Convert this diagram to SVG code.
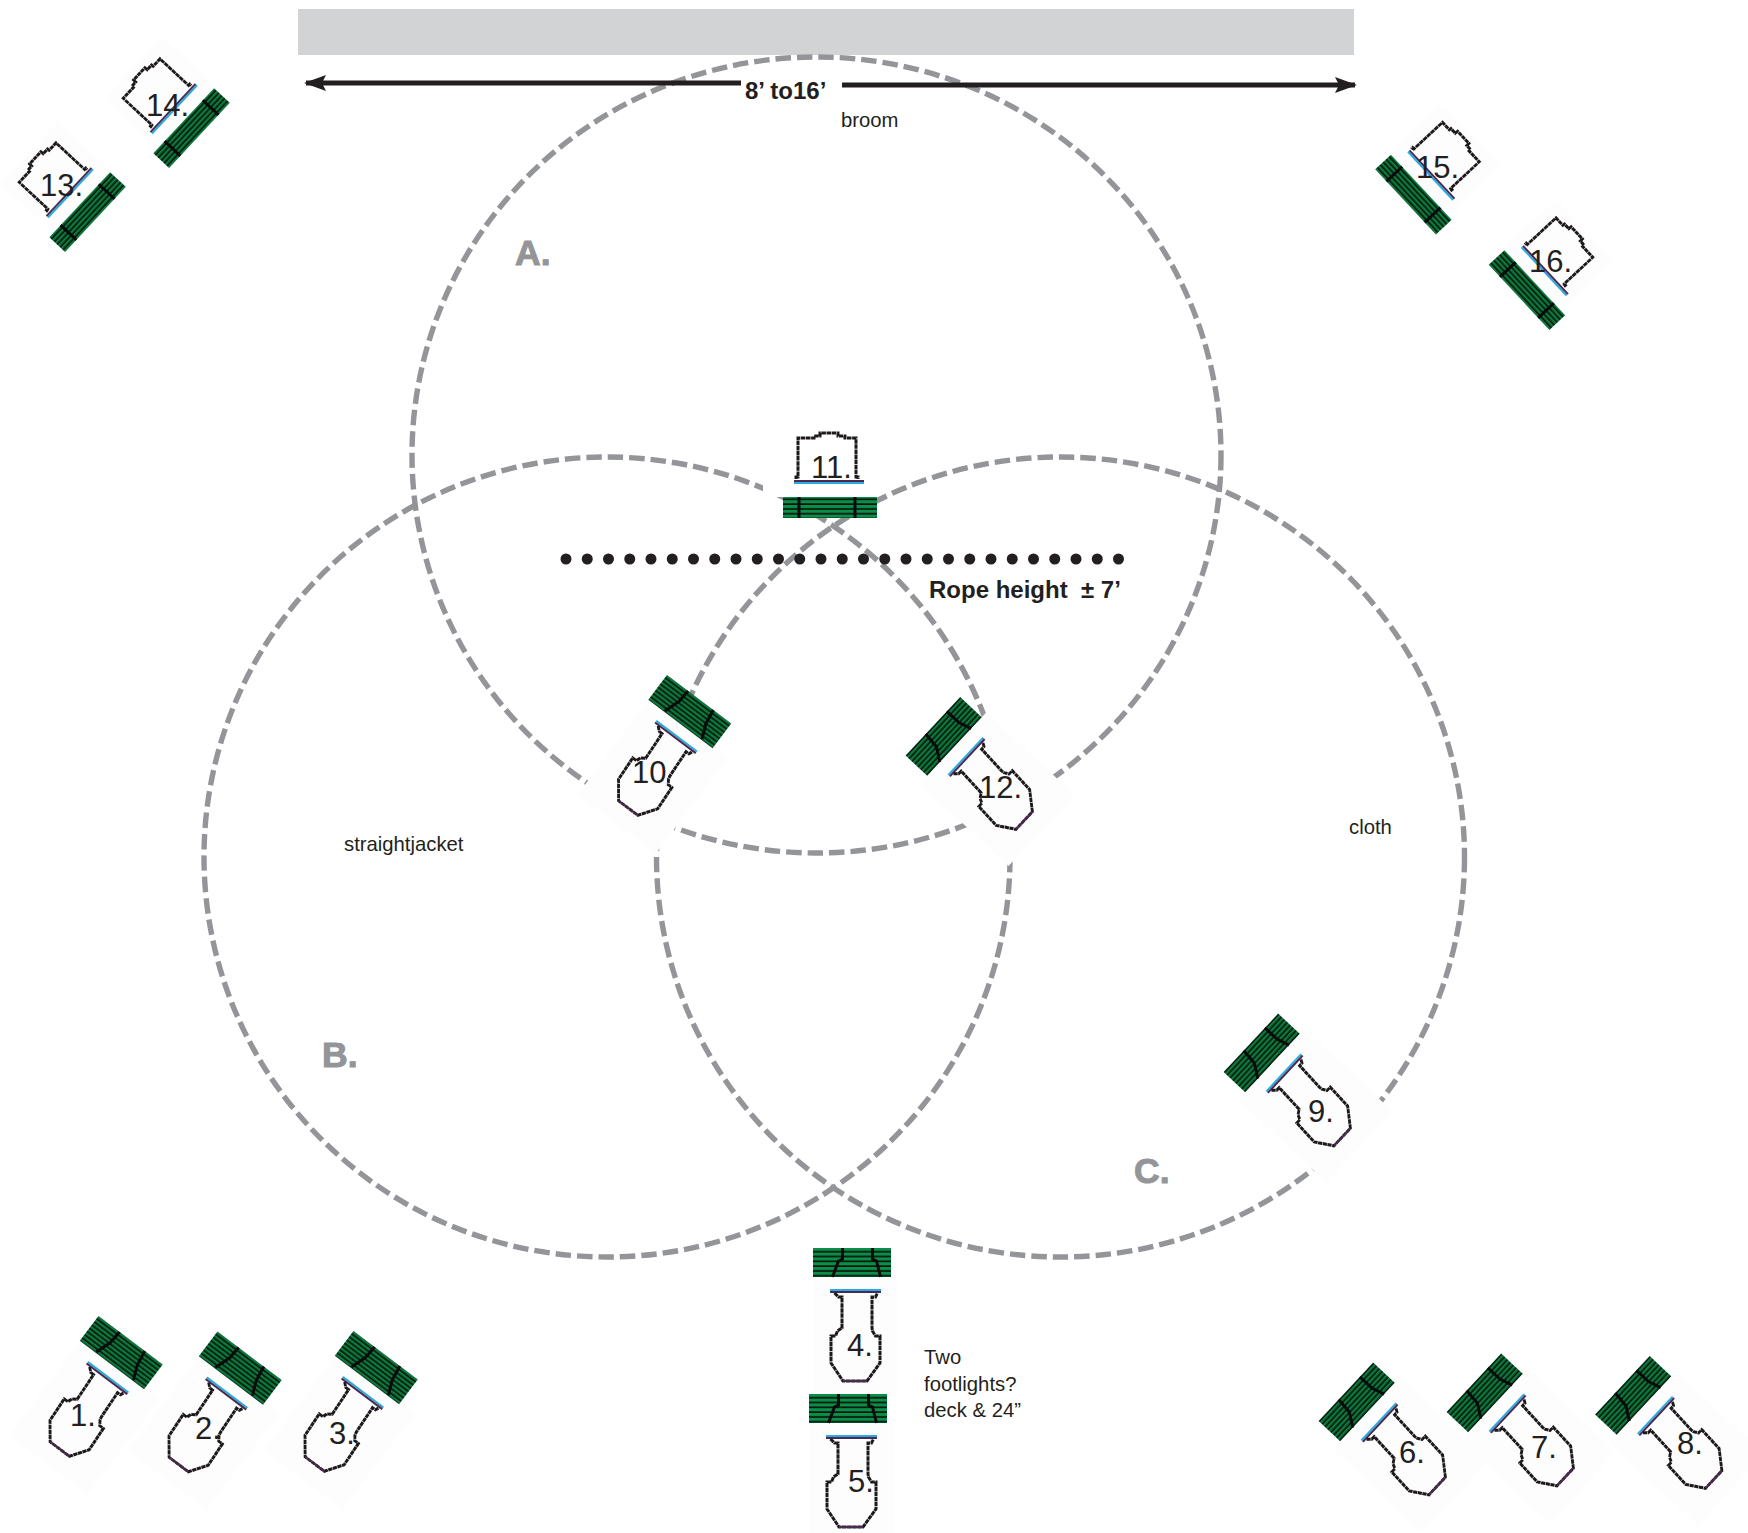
<svg xmlns="http://www.w3.org/2000/svg" width="1748" height="1533" viewBox="0 0 1748 1533">
<style>
text{font-family:"Liberation Sans",Arial,sans-serif;fill:#231f20}
.n{font-size:31px}
.s{font-size:20.3px}
.b{font-weight:bold;font-size:24px;white-space:pre}
.z{font-size:35.5px;font-weight:bold;fill:#939598;stroke:#939598;stroke-width:1}
.c{fill:none;stroke:#939598;stroke-width:5.4;stroke-dasharray:15.5 6}
.o{fill:none;stroke:#1d181b;stroke-width:3;stroke-dasharray:4.5 .6}
.t{stroke:#4a2a50;stroke-width:2;fill:none}
.u{stroke:#29abe2;stroke-width:2;fill:none}
.m{stroke:#0b0b0b;stroke-width:3;fill:none}
.bg{fill:#fdfdfd}
.w{fill:#fff}
</style>
<defs>
<pattern id="stripes" width="10" height="4.8" patternUnits="userSpaceOnUse">
<rect width="10" height="4.8" fill="#0a8f48"/>
<rect y="3.1" width="10" height="1.7" fill="#08140d"/>
</pattern>
<pattern id="stripes-dark" width="10" height="4" patternUnits="userSpaceOnUse">
<rect width="10" height="4" fill="#0b7a3c"/>
<rect y="2.4" width="10" height="1.6" fill="#06130b"/>
</pattern>
<marker id="head" viewBox="0 0 22 16" refX="20" refY="8" markerWidth="22" markerHeight="16" markerUnits="userSpaceOnUse" orient="auto-start-reverse">
<path d="M0,0 L22,8 L0,16 L4,8 Z" fill="#231f20"/>
</marker>
<g id="body">
<path class="o" d="M-21,2 L-17,6 H-13.5 V37 L-18,40 L-20,45 H-24.5 V72 L-12.5,90 H11.5 L24.5,72 V45 L20,45 L17,40 L16.5,37 V6 H20 L22,2"/>
<path class="t" d="M-12.5,90 H11.5"/>
</g>
<g id="head-v">
<rect class="bg" x="-42" y="-14" width="84" height="119"/>
<rect x="-42.5" y="-43" width="78" height="29" fill="url(#stripes)"/>
<path class="m" d="M-13,-43 V-32 L-17,-30 L-23,-14 M17,-43 V-32 L21,-30 L25,-14"/>
<path class="u" d="M-25.5,-1 H25.5"/>
<path class="t" d="M-25.5,1 H25.5"/>
</g>
<g id="head-l">
<rect class="bg" x="-44" y="-14" width="98" height="119"/>
<rect x="-44.5" y="-44" width="80.5" height="31" fill="url(#stripes-dark)"/>
<path class="m" d="M-18,-44 L-19,-30 L-24.5,-14 M13.5,-44 L16,-28 L22,-14"/>
<path class="u" d="M-25.5,-1 H25.5"/>
<path class="t" d="M-25.5,1 H25.5"/>
</g>
<g id="head-r">
<rect class="bg" x="-51" y="-16" width="97" height="121"/>
<rect x="-40.5" y="-45.5" width="80" height="29.5" fill="url(#stripes-dark)"/>
<path class="m" d="M-11,-45.5 L-13,-29 L-22,-16 M20,-45.5 V-29 L24,-16"/>
<path class="u" d="M-25.5,-1 H25.5"/>
<path class="t" d="M-25.5,1 H25.5"/>
</g>
<g id="body-short">
<path class="o" d="M-33,-2 V-4 H-31 V-43 H-15 V-45 H-9 V-48 H9 V-45 H16 V-43 H27 V-4 H29 V-2"/>
</g>
<g id="head-short">
<rect class="w" x="-66" y="-56" width="112" height="72"/>
<rect x="-46" y="16" width="94" height="21" fill="url(#stripes)"/>
<path class="m" d="M-30,16 V37 M26,16 V37"/>
<path class="u" d="M-35,2 H35"/>
<path class="t" d="M-35,0 H35"/>
</g>
<g id="head-short-r">
<rect class="bg" x="-40" y="-56" width="84" height="72"/>
<rect x="-46.5" y="16.5" width="89" height="21.5" fill="url(#stripes-dark)"/>
<path class="m" d="M-30,16.5 V38 M26,16.5 V38"/>
<path class="u" d="M-33,2 H33"/>
<path class="t" d="M-33,0 H33"/>
</g>
</defs>
<rect id="batten" x="298" y="9" width="1056" height="46" fill="#d1d3d4"/>
<g id="connectors">
<ellipse class="c" cx="816.5" cy="455" rx="404.5" ry="398"/>
<ellipse class="c" cx="607" cy="857" rx="403" ry="400"/>
<ellipse class="c" cx="1060.5" cy="857" rx="404" ry="400"/>
<line x1="306" y1="83" x2="741" y2="83" stroke="#231f20" stroke-width="5" marker-start="url(#head)"/>
<line x1="842" y1="85" x2="1355" y2="85" stroke="#231f20" stroke-width="5" marker-end="url(#head)"/>
<line x1="566" y1="559" x2="1122" y2="559" stroke="#231f20" stroke-width="11" stroke-linecap="round" stroke-dasharray="0 21.25"/>
</g>
<g id="light-1"><use href="#head-l" transform="translate(107.5,1378) rotate(37)"/><use href="#body" transform="translate(107.5,1378) rotate(37) skewX(3.4) scale(1,.95)"/><text class="n" x="70" y="1426">1.</text></g>
<g id="light-2"><use href="#head-l" transform="translate(226.5,1393.5) rotate(37)"/><use href="#body" transform="translate(226.5,1393.5) rotate(37) skewX(3.4) scale(1,.95)"/><text class="n" x="195" y="1439">2.</text></g>
<g id="light-3"><use href="#head-l" transform="translate(362.5,1393) rotate(37)"/><use href="#body" transform="translate(362.5,1393) rotate(37) skewX(3.4) scale(1,.95)"/><text class="n" x="329" y="1444">3.</text></g>
<g id="light-4"><use href="#head-v" transform="translate(855.5,1291)"/><use href="#body" transform="translate(855.5,1291)"/><text class="n" x="847" y="1356">4.</text></g>
<g id="light-5"><use href="#head-v" transform="translate(851.5,1437)"/><use href="#body" transform="translate(851.5,1437)"/><text class="n" x="848" y="1492">5.</text></g>
<g id="light-6"><use href="#head-r" transform="translate(1379.5,1422.5) rotate(-47)"/><use href="#body" transform="translate(1379.5,1422.5) rotate(-47) skewX(-4.4) scale(1,.95)"/><text class="n" x="1399" y="1463">6.</text></g>
<g id="light-7"><use href="#head-r" transform="translate(1507.5,1413.5) rotate(-47)"/><use href="#body" transform="translate(1507.5,1413.5) rotate(-47) skewX(-4.4) scale(1,.95)"/><text class="n" x="1531" y="1458">7.</text></g>
<g id="light-8"><use href="#head-r" transform="translate(1656,1416) rotate(-47)"/><use href="#body" transform="translate(1656,1416) rotate(-47) skewX(-4.4) scale(1,.95)"/><text class="n" x="1677" y="1454">8.</text></g>
<g id="light-9"><use href="#head-r" transform="translate(1284.5,1073.5) rotate(-47)"/><use href="#body" transform="translate(1284.5,1073.5) rotate(-47) skewX(-4.4) scale(1,.95)"/><text class="n" x="1308" y="1122">9.</text></g>
<g id="light-10"><use href="#head-l" transform="translate(676,737) rotate(37)"/><use href="#body" transform="translate(676,737) rotate(37) skewX(3.4) scale(1,.95)"/><text class="n" x="632" y="783">10</text></g>
<g id="light-11"><use href="#head-short" transform="translate(829,481)"/><use href="#body-short" transform="translate(829,481)"/><text class="n" x="811" y="478">11.</text></g>
<g id="light-12"><use href="#head-r" transform="translate(966.5,757) rotate(-47)"/><use href="#body" transform="translate(966.5,757) rotate(-47) skewX(-4.4) scale(1,.95)"/><text class="n" x="979" y="798">12.</text></g>
<g id="light-13"><use href="#head-short-r" transform="translate(69,192) rotate(-47)"/><use href="#body-short" transform="translate(69,192) rotate(-47) translate(2,0) scale(.93,1)"/><text class="n" x="40" y="196">13.</text></g>
<g id="light-14"><use href="#head-short-r" transform="translate(173,108) rotate(-47)"/><use href="#body-short" transform="translate(173,108) rotate(-47) translate(2,0) scale(.93,1)"/><text class="n" x="146" y="116">14.</text></g>
<g id="light-15"><use href="#head-short-r" transform="translate(1432,174.5) scale(-1,1) rotate(-47)"/><use href="#body-short" transform="translate(1429.5,171.5) scale(-1,1) rotate(-47) translate(2,0) scale(.93,1)"/><text class="n" x="1416" y="178">15.</text></g>
<g id="light-16"><use href="#head-short-r" transform="translate(1545.5,270) scale(-1,1) rotate(-47)"/><use href="#body-short" transform="translate(1543,267) scale(-1,1) rotate(-47) translate(2,0) scale(.93,1)"/><text class="n" x="1529" y="272">16.</text></g>
<g id="labels">
<text class="b" x="745" y="99">8’ to16’</text>
<text class="s" x="841" y="127">broom</text>
<text class="b" x="929" y="598">Rope height  ± 7’</text>
<text class="s" x="344" y="851">straightjacket</text>
<text class="s" x="1349" y="834">cloth</text>
<text class="z" x="515" y="265">A.</text>
<text class="z" x="322" y="1067">B.</text>
<text class="z" x="1134" y="1183">C.</text>
<text class="s" x="924" y="1364">Two</text>
<text class="s" x="924" y="1391">footlights?</text>
<text class="s" x="924" y="1417">deck &amp; 24”</text>
</g>
</svg>
